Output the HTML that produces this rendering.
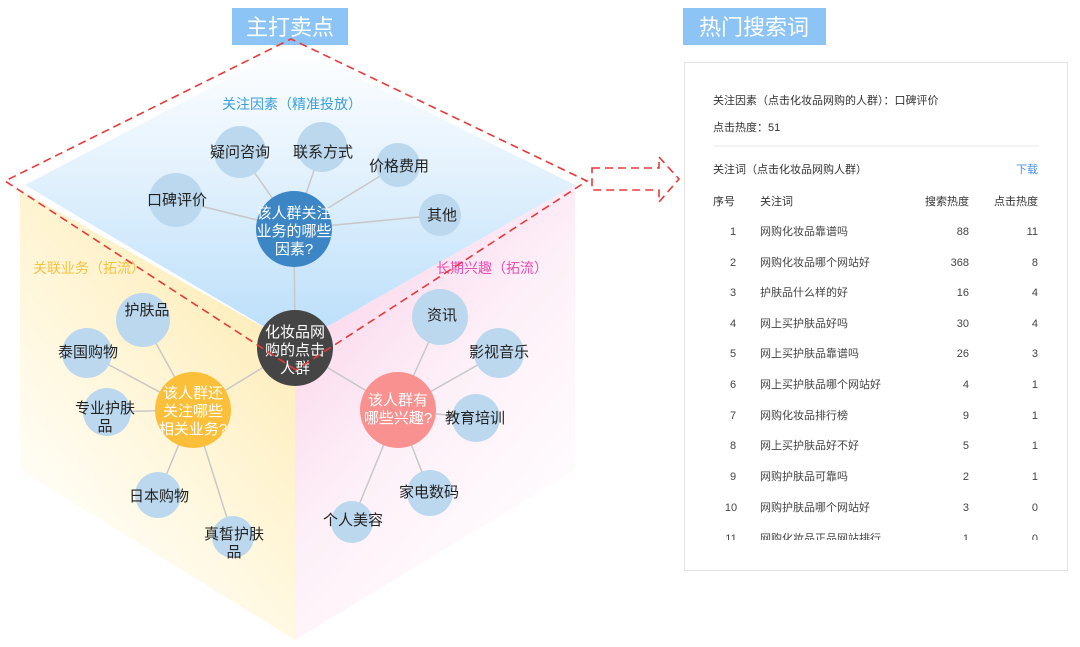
<!DOCTYPE html>
<html><head><meta charset="utf-8"><style>
body{margin:0;background:#fff;}
svg{display:block;font-family:"Liberation Sans","Noto Sans CJK SC",sans-serif;}
</style></head><body>
<svg width="1080" height="647" viewBox="0 0 1080 647" xmlns="http://www.w3.org/2000/svg">
<defs>
<linearGradient id="gb" x1="0" y1="0" x2="0" y2="1"><stop offset="0" stop-color="#fff"/><stop offset="0.35" stop-color="#e8f4fd"/><stop offset="1" stop-color="#b9defa"/></linearGradient>
<linearGradient id="gy" x1="1" y1="0" x2="0.3" y2="1"><stop offset="0" stop-color="#fde7a6"/><stop offset="0.55" stop-color="#fff6d8"/><stop offset="1" stop-color="#fff"/></linearGradient>
<linearGradient id="gp" x1="0" y1="0" x2="0.7" y2="1"><stop offset="0" stop-color="#fbcbe6"/><stop offset="0.55" stop-color="#fdf0f8"/><stop offset="1" stop-color="#fff"/></linearGradient>
<clipPath id="pc"><rect x="684" y="60" width="384" height="480"/></clipPath>
</defs>
<polygon points="20,190 295,345 295,640 20,470" fill="url(#gy)"/>
<polygon points="575,185 295,345 295,640 575,470" fill="url(#gp)"/>
<polygon points="292,45 575,185 295,345 25,185" fill="url(#gb)"/>

<rect x="232" y="8" width="116" height="37" fill="#8cc4f5"/>
<text x="290" y="35" font-size="22" fill="#fff" text-anchor="middle">主打卖点</text>
<rect x="683" y="8" width="143" height="37" fill="#8cc4f5"/>
<text x="754" y="35" font-size="22" fill="#fff" text-anchor="middle">热门搜索词</text>

<text x="292" y="109" font-size="14" fill="#3aa0d8" text-anchor="middle">关注因素（精准投放）</text>
<text x="33" y="273" font-size="14" fill="#f5c342">关联业务（拓流）</text>
<text x="436" y="273" font-size="14" fill="#e84fb0">长期兴趣（拓流）</text>

<g stroke="#c8c8c8" stroke-width="1.5">
<line x1="294" y1="229" x2="240" y2="152"/><line x1="294" y1="229" x2="322" y2="147"/>
<line x1="294" y1="229" x2="398" y2="165"/><line x1="294" y1="229" x2="176" y2="200"/>
<line x1="294" y1="229" x2="440" y2="215"/><line x1="294" y1="229" x2="295" y2="348"/>
<line x1="295" y1="348" x2="193" y2="410"/><line x1="295" y1="348" x2="398" y2="410"/>
<line x1="193" y1="410" x2="143" y2="320"/><line x1="193" y1="410" x2="87" y2="353"/>
<line x1="193" y1="410" x2="107" y2="412"/><line x1="193" y1="410" x2="158" y2="495"/>
<line x1="193" y1="410" x2="233" y2="537"/>
<line x1="398" y1="410" x2="440" y2="317"/><line x1="398" y1="410" x2="499" y2="353"/>
<line x1="398" y1="410" x2="476" y2="418"/><line x1="398" y1="410" x2="430" y2="493"/>
<line x1="398" y1="410" x2="352" y2="522"/>
</g>
<g fill="#bcd8ee">
<circle cx="240" cy="152" r="26"/><circle cx="322" cy="147" r="25"/><circle cx="398" cy="165" r="22"/>
<circle cx="176" cy="200" r="27"/><circle cx="440" cy="215" r="21"/>
<circle cx="143" cy="320" r="27"/><circle cx="87" cy="353" r="25"/><circle cx="107" cy="412" r="24"/>
<circle cx="158" cy="495" r="23"/><circle cx="233" cy="537" r="21"/>
<circle cx="440" cy="317" r="28"/><circle cx="499" cy="353" r="25"/><circle cx="476" cy="418" r="24"/>
<circle cx="430" cy="493" r="23"/><circle cx="352" cy="522" r="21"/>
</g>
<circle cx="294" cy="229" r="38" fill="#3d86c6"/>
<circle cx="193" cy="410" r="38" fill="#fbbf3a"/>
<circle cx="398" cy="410" r="38" fill="#f8918f"/>
<circle cx="295" cy="348" r="38" fill="#454545"/>

<g font-size="15" fill="#222" text-anchor="middle">
<text x="240" y="157">疑问咨询</text><text x="323" y="157">联系方式</text><text x="399" y="171">价格费用</text>
<text x="177" y="205">口碑评价</text><text x="442" y="220">其他</text>
<text x="147" y="315">护肤品</text><text x="88" y="357">泰国购物</text>
<text x="105" y="413">专业护肤</text><text x="105" y="431">品</text>
<text x="159" y="501">日本购物</text><text x="234" y="539">真皙护肤</text><text x="234" y="557">品</text>
<text x="442" y="320">资讯</text><text x="499" y="357">影视音乐</text><text x="475" y="423">教育培训</text>
<text x="429" y="497">家电数码</text><text x="353" y="525">个人美容</text>
</g>
<g font-size="15" fill="#fff" text-anchor="middle">
<text x="294" y="218">该人群关注</text><text x="294" y="236">业务的哪些</text><text x="294" y="254">因素?</text>
<text x="295" y="337">化妆品网</text><text x="295" y="355">购的点击</text><text x="295" y="373">人群</text>
<text x="193" y="398">该人群还</text><text x="193" y="416">关注哪些</text><text x="193" y="434">相关业务?</text>
<text x="398" y="405">该人群有</text><text x="398" y="423">哪些兴趣?</text>
</g>

<g fill="none" stroke="#e8393a" stroke-width="1.6" stroke-dasharray="8,5">
<polyline points="296,370 5,181 291,39 587,181 296,370"/>
<polygon points="592,168 659,168 659,157 679,179 659,202 659,190 592,190"/>
</g>

<rect x="684.5" y="62.5" width="383" height="508" fill="#fff" stroke="#e3e3e3"/>
<g font-size="11" fill="#333">
<text x="713" y="104">关注因素（点击化妆品网购的人群）：口碑评价</text>
<text x="713" y="131">点击热度：51</text>
<line x1="713" y1="146" x2="1038" y2="146" stroke="#e8e8e8"/>
<text x="713" y="173">关注词（点击化妆品网购人群）</text>
<text x="1038" y="173" text-anchor="end" fill="#4a90e2">下载</text>
<text x="713" y="205">序号</text><text x="760" y="205">关注词</text>
<text x="969" y="205" text-anchor="end">搜索热度</text><text x="1038" y="205" text-anchor="end">点击热度</text>
</g>
<g font-size="11" fill="#444" clip-path="url(#pc)">
<g text-anchor="middle">
<text x="733" y="235">1</text><text x="733" y="266">2</text><text x="733" y="296">3</text><text x="733" y="327">4</text>
<text x="733" y="357">5</text><text x="733" y="388">6</text><text x="733" y="419">7</text><text x="733" y="449">8</text>
<text x="733" y="480">9</text><text x="731" y="511">10</text><text x="731" y="542">11</text>
</g>
<text x="760" y="235">网购化妆品靠谱吗</text><text x="760" y="266">网购化妆品哪个网站好</text>
<text x="760" y="296">护肤品什么样的好</text><text x="760" y="327">网上买护肤品好吗</text>
<text x="760" y="357">网上买护肤品靠谱吗</text><text x="760" y="388">网上买护肤品哪个网站好</text>
<text x="760" y="419">网购化妆品排行榜</text><text x="760" y="449">网上买护肤品好不好</text>
<text x="760" y="480">网购护肤品可靠吗</text><text x="760" y="511">网购护肤品哪个网站好</text>
<text x="760" y="542">网购化妆品正品网站排行</text>
<g text-anchor="end">
<text x="969" y="235">88</text><text x="969" y="266">368</text><text x="969" y="296">16</text><text x="969" y="327">30</text>
<text x="969" y="357">26</text><text x="969" y="388">4</text><text x="969" y="419">9</text><text x="969" y="449">5</text>
<text x="969" y="480">2</text><text x="969" y="511">3</text><text x="969" y="542">1</text>
<text x="1038" y="235">11</text><text x="1038" y="266">8</text><text x="1038" y="296">4</text><text x="1038" y="327">4</text>
<text x="1038" y="357">3</text><text x="1038" y="388">1</text><text x="1038" y="419">1</text><text x="1038" y="449">1</text>
<text x="1038" y="480">1</text><text x="1038" y="511">0</text><text x="1038" y="542">0</text>
</g>
</g>
</svg>
</body></html>
